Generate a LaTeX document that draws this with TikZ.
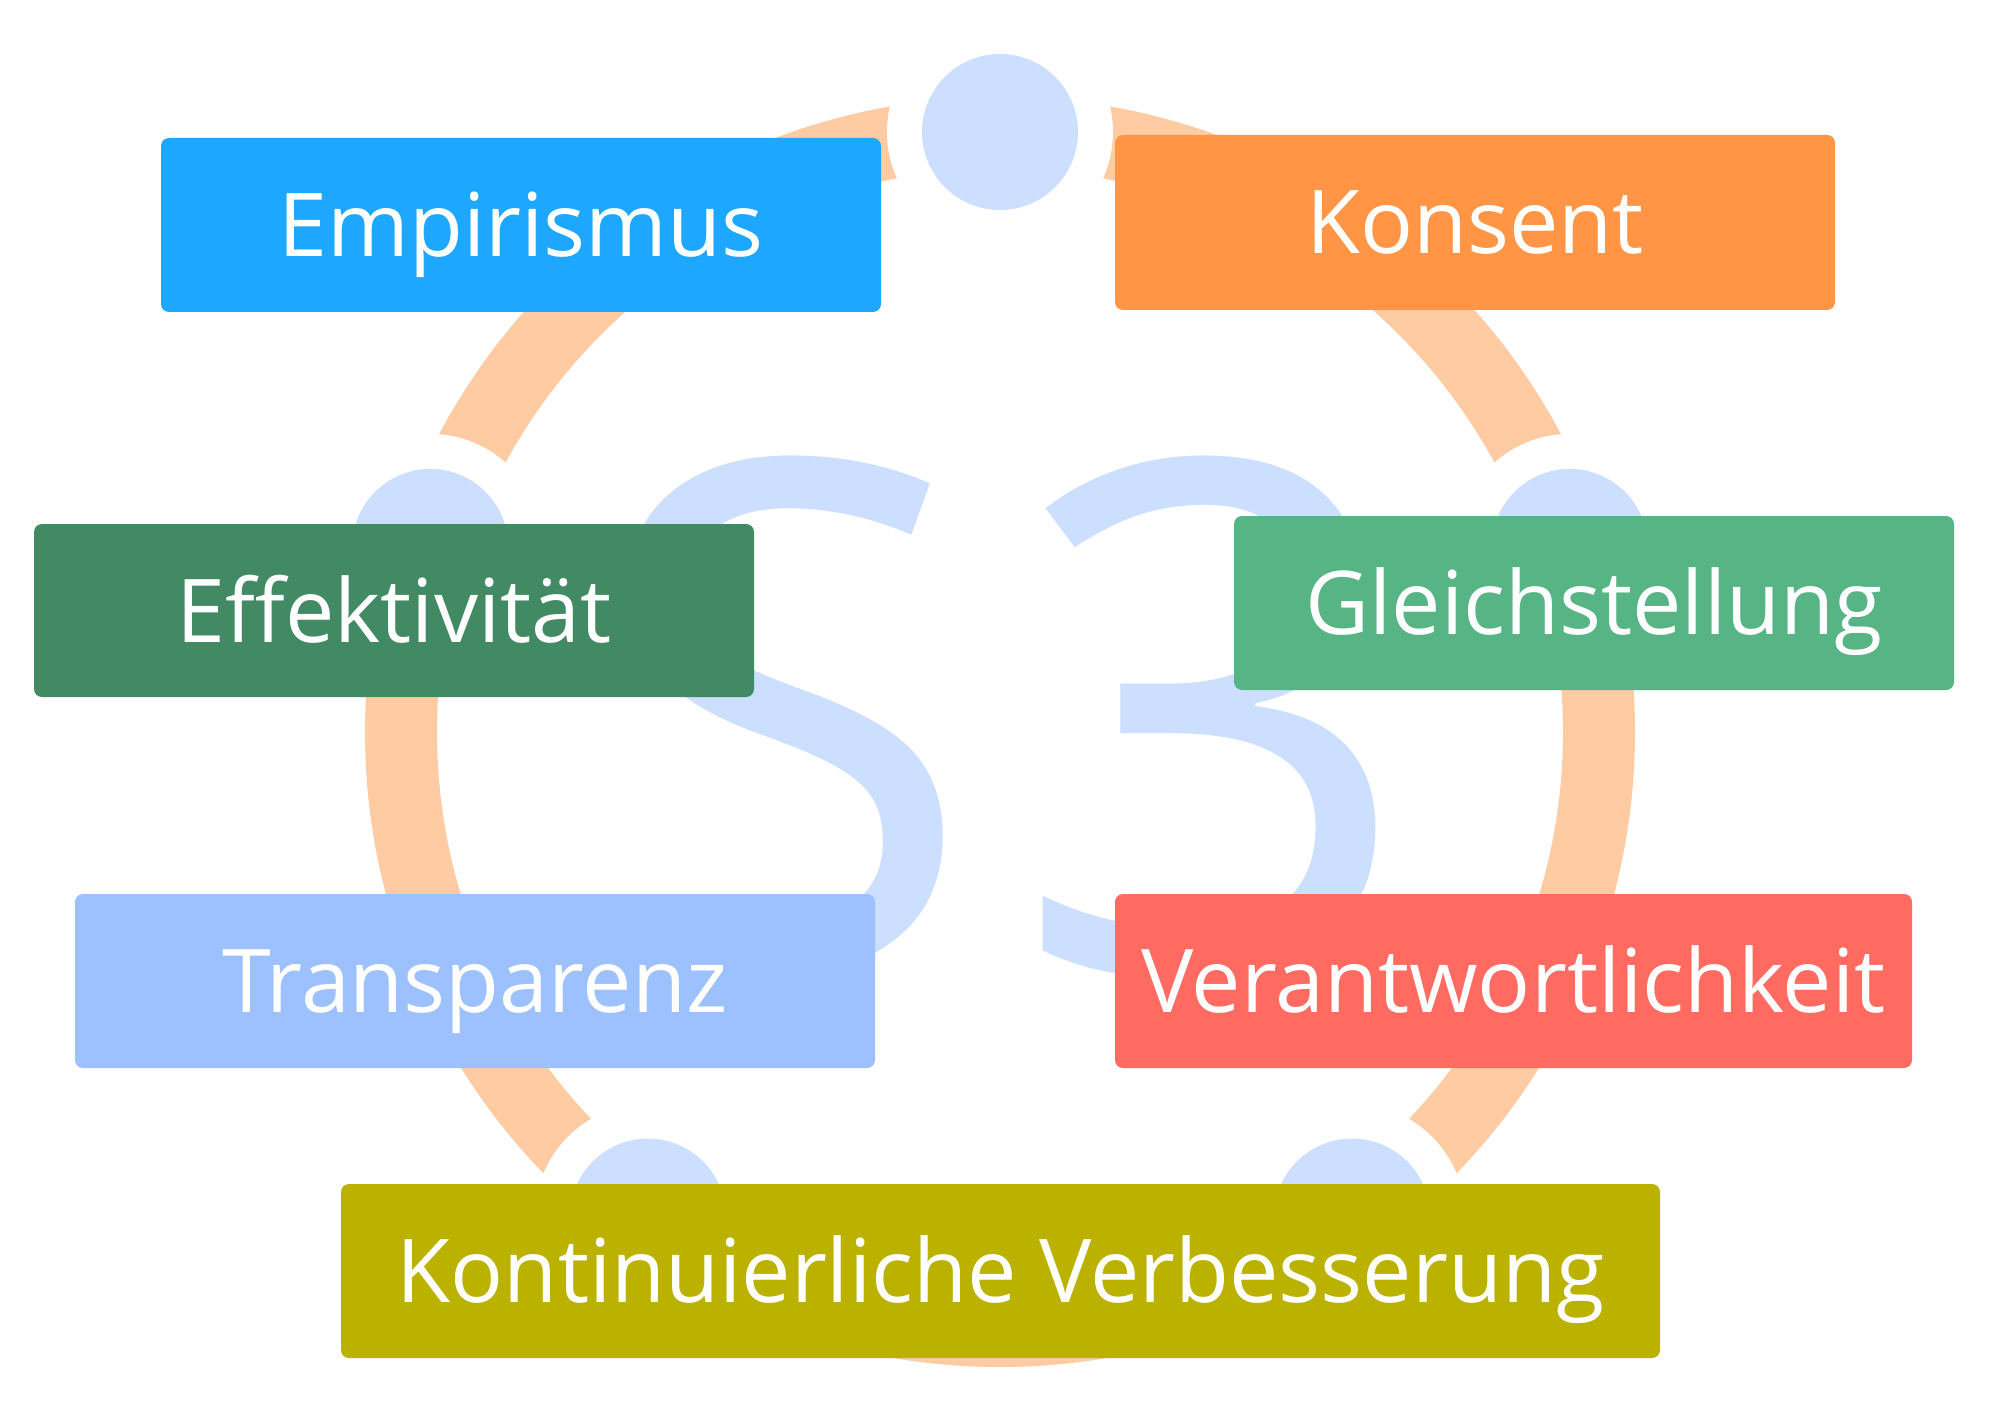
\documentclass[tikz,border=0pt]{standalone}
\usepackage{fontspec}
\setmainfont{Open Sans}
\definecolor{ringc}{HTML}{FFCBA3}
\definecolor{dotc}{HTML}{CCDFFE}
\definecolor{cEmp}{HTML}{1DA7FF}
\definecolor{cKon}{HTML}{FF9545}
\definecolor{cEff}{HTML}{428A64}
\definecolor{cGle}{HTML}{57B485}
\definecolor{cTra}{HTML}{9CC1FE}
\definecolor{cVer}{HTML}{FF6B61}
\definecolor{cKV}{HTML}{BBB200}
\begin{document}
\begin{tikzpicture}[x=1pt,y=-1pt,
  box/.style={rectangle, rounded corners=8pt, inner sep=0pt, text=white,
    font=\fontsize{88}{100}\selectfont, text height=63pt, text depth=0pt,
    minimum height=174pt},
  halo/.style={fill=white},
  dotfill/.style={fill=dotc}]
\useasboundingbox (0,0) rectangle (2000,1420);
\fill[white] (0,0) rectangle (2000,1420);
% ring
\coordinate (ctr) at (1000,732);
\draw[ringc, line width=72pt] (ctr) circle[radius=599pt];
% dots on ring
\coordinate (d1) at (1000,132);
\coordinate (d2) at (430.3,546.9);
\coordinate (d3) at (1569.7,546.9);
\coordinate (d4) at (647.9,1216.6);
\coordinate (d5) at (1352.1,1216.6);
\foreach \d in {d1,d2,d3,d4,d5}{
  \fill[halo] (\d) circle[radius=113pt];
  \fill[dotfill] (\d) circle[radius=78pt];
}
% big S3
\node[text=dotc, font=\fontsize{712}{712}\selectfont, inner sep=0pt, anchor=base] (s3) at (1002,971) {S\kern34pt 3};
% boxes
\node[box, fill=cEmp, minimum width=720pt] (emp) at (521,225) {Empirismus};
\node[box, fill=cKon, minimum width=720pt, minimum height=175pt] (kon) at (1475,222.5) {Konsent};
\node[box, fill=cEff, minimum width=720pt, minimum height=173pt] (eff) at (394,610.5) {Effektivität};
\node[box, fill=cGle, minimum width=720pt] (gle) at (1594,603) {Gleichstellung};
\node[box, fill=cTra, minimum width=800pt] (tra) at (475,981) {Transparenz};
\node[box, fill=cVer, minimum width=797pt] (ver) at (1513.5,981) {Verantwortlichkeit};
\node[box, fill=cKV, minimum width=1319pt] (kv) at (1000.5,1271) {Kontinuierliche Verbesserung};
\end{tikzpicture}
\end{document}
